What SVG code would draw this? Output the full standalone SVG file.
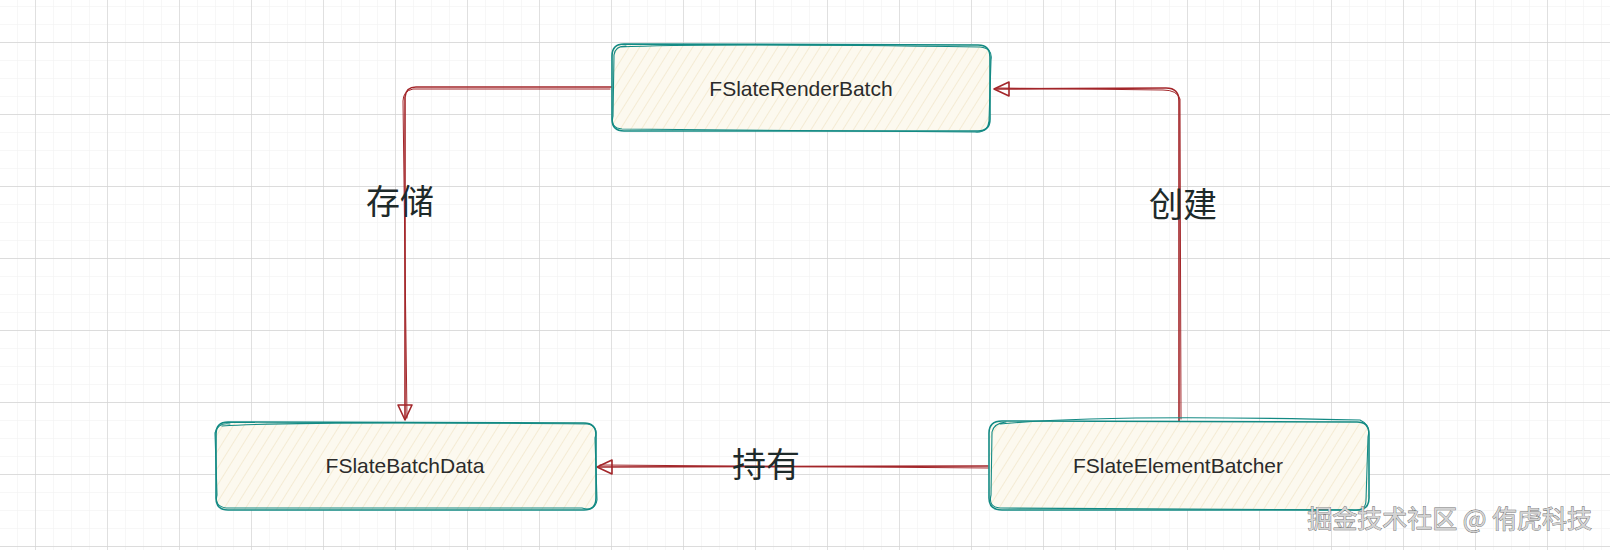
<svg xmlns="http://www.w3.org/2000/svg" width="1610" height="550" viewBox="0 0 1610 550">
<style>
.box{fill:none;stroke:#138a84;stroke-width:1.6;stroke-linecap:round;stroke-linejoin:round}
.box2{fill:none;stroke:#138a84;stroke-width:1.1;stroke-linecap:round;stroke-linejoin:round}
.conn{fill:none;stroke:#a3262a;stroke-width:1.6;stroke-linecap:round;stroke-linejoin:round}
.conn2{fill:none;stroke:#a3262a;stroke-width:1;stroke-linecap:round;stroke-linejoin:round}
.lbl{font-family:"Liberation Sans",Arial,sans-serif;font-size:21px;fill:#2b2b2b;text-anchor:middle;dominant-baseline:central}
.cjk{font-family:"Noto Sans CJK SC","Noto Sans",sans-serif;font-size:34px;fill:#1e2a2a;text-anchor:middle;dominant-baseline:central}
.wm{font-family:"Noto Sans CJK SC","Noto Sans",sans-serif;font-size:25px;fill:#d4d4d4;stroke:#6e6e6e;stroke-width:0.8;paint-order:stroke;text-anchor:end;dominant-baseline:central}
</style>
<defs>
<pattern id="minor" patternUnits="userSpaceOnUse" x="17" y="6" width="18" height="18">
<path d="M0,0 V18 M0,0 H18" fill="none" stroke="#f0f0f0" stroke-width="1"/>
</pattern>
<pattern id="major" patternUnits="userSpaceOnUse" x="35" y="42" width="72" height="72">
<path d="M0,0 V72 M0,0 H72" fill="none" stroke="#d4d4d4" stroke-width="1.3"/>
</pattern>
<pattern id="hatch" patternUnits="userSpaceOnUse" width="9" height="9" patternTransform="rotate(32)">
<rect width="9" height="9" fill="#fcf9ef"/>
<path d="M0,0 V9" stroke="#efe3c3" stroke-width="1.2"/>
</pattern>
</defs>
<rect width="1610" height="550" fill="#ffffff"/>
<rect width="1610" height="550" fill="url(#minor)"/>
<rect width="1610" height="550" fill="url(#major)"/>

<g id="connectors">
<g id="edge-store">
<path class="conn" d="M612,87 L416,87 Q406,87 405,97 L405,419"/>
<path class="conn2" d="M610,89 L413,89 Q403,91 403,101 L407,418"/>
<path class="conn" d="M398,405 L405,420 L412,405 Z"/>
</g>
<g id="edge-create">
<path class="conn" d="M1179,421 L1179,101 Q1179,88 1166,88 L995,89"/>
<path class="conn2" d="M1181,419 L1180,99 Q1177,90 1163,90 L997,88"/>
<path class="conn" d="M1009,82 L994,89 L1009,96 Z"/>
</g>
<g id="edge-hold">
<path class="conn" d="M988,466 L598,467"/>
<path class="conn2" d="M989,468 L600,465"/>
<path class="conn" d="M612,460 L597,467 L612,474 Z"/>
</g>
<text class="cjk" x="400" y="199">存储</text>
<text class="cjk" x="1183" y="202">创建</text>
<text class="cjk" x="766" y="462">持有</text>
</g>

<g id="node-render-batch">
<rect x="612" y="44" width="378" height="87" rx="11" fill="url(#hatch)"/>
<path class="box" d="M624,44 L978,45 Q990,45 990,57 L990,119 Q990,131 978,131 L624,131 Q612,131 612,119 L612,56 Q612,44 624,44 Z"/>
<path class="box2" d="M620,47 Q700,43 980,47 Q993,48 991,60 L989,121 Q988,133 975,132 L622,129 Q610,128 613,116 L614,55 Q615,46 626,46"/>
<text class="lbl" x="801" y="88">FSlateRenderBatch</text>
</g>

<g id="node-batch-data">
<rect x="216" y="422" width="380" height="88" rx="11" fill="url(#hatch)"/>
<path class="box" d="M228,422 L584,423 Q596,423 596,435 L596,498 Q596,510 584,510 L228,510 Q216,510 216,498 L216,434 Q216,422 228,422 Z"/>
<path class="box2" d="M222,426 Q300,421 588,424 Q599,427 595,438 L597,500 Q595,512 582,508 L226,508 Q214,506 217,495 L215,433 Q218,422 230,424"/>
<text class="lbl" x="405" y="465">FSlateBatchData</text>
</g>

<g id="node-element-batcher">
<rect x="989" y="421" width="380" height="89" rx="12" fill="url(#hatch)"/>
<path class="box" d="M1002,421 L1357,422 Q1369,422 1369,434 L1369,498 Q1369,510 1357,510 L1002,510 Q989,510 989,498 L989,433 Q989,421 1002,421 Z"/>
<path class="box2" d="M1000,424 Q1100,414 1360,420 Q1371,425 1368,437 L1366,500 Q1366,512 1352,510 L1000,508 Q988,507 991,495 L992,432 Q994,423 1006,422"/>
<text class="lbl" x="1178" y="465">FSlateElementBatcher</text>
</g>

<text class="wm" x="1592" y="517">掘金技术社区 @ 侑虎科技</text>
</svg>
